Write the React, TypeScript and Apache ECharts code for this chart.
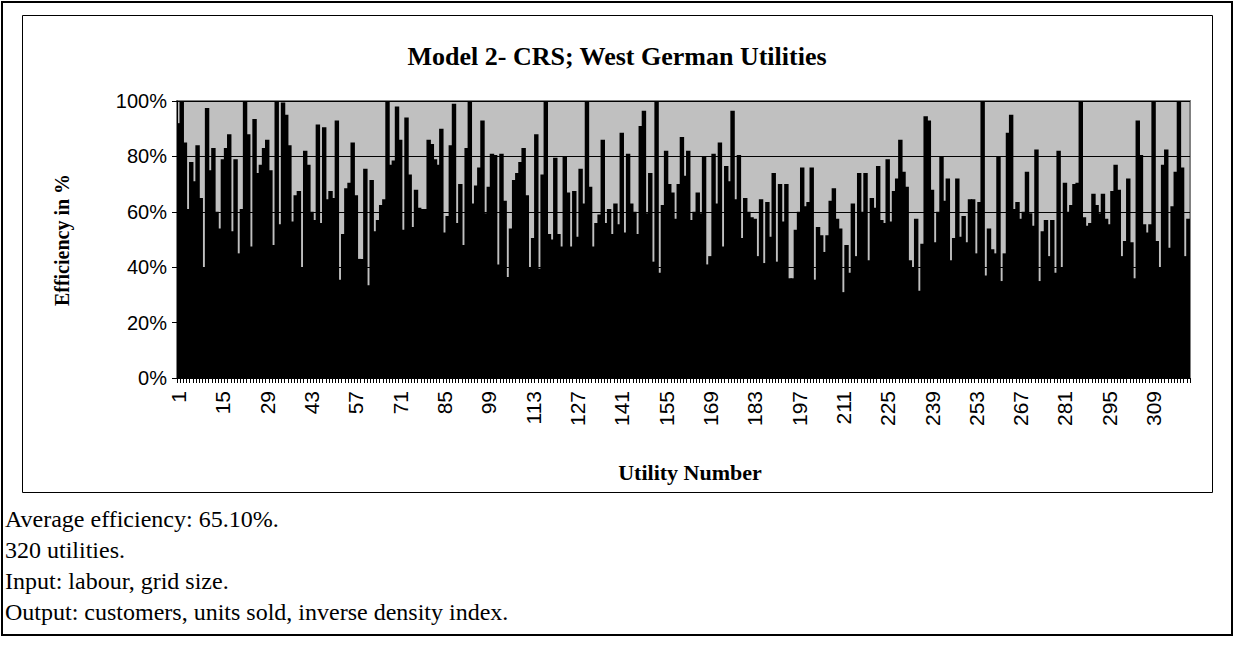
import React, { useEffect, useRef } from "react";
import * as echarts from "echarts";

// Utility numbers 1..320 (category axis)
const utilityCount = 320;
const categories: string[] = Array.from({ length: utilityCount }, (_, i) => String(i + 1));

// Efficiency (%), in blocks
const eff001: number[] = [92, 100, 85, 61, 78, 71, 84, 65, 40, 97.5, 75, 83, 60, 54, 79, 83, 88, 53, 79, 45, 61, 100, 88, 47.5, 93.5, 74, 77, 83, 86, 75, 48, 100];
const eff033: number[] = [55.5, 99.5, 95, 84, 56.5, 66, 67.5, 40, 82, 77, 60, 57, 91.5, 56, 90.5, 64.5, 67.5, 65, 93, 35.5, 52, 68.5, 70.5, 85, 66, 43, 43, 75.5, 33.5, 71.5, 53, 57];
const eff065: number[] = [62.5, 64.5, 100, 77, 78.5, 98, 86, 53.5, 94, 73.5, 54.5, 68, 61.5, 61, 61, 86, 84.5, 79, 77, 90, 52.5, 58.5, 84, 99, 56, 70, 48, 83, 100, 63, 69.5, 76, 93];
const eff098: number[] = [59.5, 69, 81, 80.5, 41, 81, 64, 36.5, 54, 71.5, 74, 78, 83, 66, 40, 50.5, 88, 39.5, 73.5, 100, 52, 50, 79.5, 52, 47.5, 80, 67, 47.5, 67.5, 51, 75.5];
const eff129: number[] = [63, 100, 69, 47.5, 56, 59, 86, 56, 61, 52, 63, 55.5, 88.5, 52.5, 81, 63, 60, 52, 91, 96.5, 59.5, 74, 42, 100, 38, 62.5, 82, 70, 67, 57.5, 70, 87];
const eff161: number[] = [73, 82, 57, 60, 67, 59.5, 80, 41, 44, 81, 63, 85, 47.5, 76.5, 71, 96.5, 64.5, 80.5, 50.5, 65, 60, 58, 57.5, 44, 64.5, 41.5, 63.5, 51, 74, 42, 70, 56.5];
const eff193: number[] = [70, 36, 36, 53.5, 60, 76, 62, 63.5, 76, 35.5, 54.5, 51.5, 45.5, 51.5, 64, 68.5, 57.5, 54, 31, 48, 38, 63, 44, 74, 60, 74, 42.5, 65, 61.5, 76.5, 57, 56, 79];
const eff226: number[] = [56.5, 67.5, 72, 86, 74.5, 69, 42.5, 40, 57.5, 31.5, 48.5, 94.5, 93, 68, 49, 60, 80, 64, 72, 42.5, 50.5, 72, 51, 58.5, 49, 64.5, 64.5, 45, 63.5, 100];
const eff256: number[] = [37, 54, 46.5, 45, 80, 35, 45, 88.5, 95, 61, 63.5, 57.5, 60, 74.5, 59.5, 55, 82.5, 35, 53, 57, 44, 57, 38, 82, 40, 70.5, 60, 62.5, 70, 70.5, 100, 58, 55, 56, 66.5];
const eff291: number[] = [62.5, 59.5, 66.5, 57.5, 55.5, 67.5, 77, 68, 44, 49.5, 72, 49, 36, 93, 80.5, 55.5, 52.5, 55.5, 100, 49.5, 40, 77, 82.5, 47, 62, 74.5, 100, 76, 44, 57.5];

const efficiency: number[] = [
  ...eff001, ...eff033, ...eff065, ...eff098, ...eff129,
  ...eff161, ...eff193, ...eff226, ...eff256, ...eff291,
].slice(0, utilityCount);

const yTicks: number[] = [0, 20, 40, 60, 80, 100];

const titleText = "Model 2- CRS; West German Utilities";
const yAxisTitle = "Efficiency in %";
const xAxisTitle = "Utility Number";
const notes: string[] = [
  "Average efficiency: 65.10%.",
  "320 utilities.",
  "Input: labour, grid size.",
  "Output: customers, units sold, inverse density index.",
];

const W = 1234;
const H = 669;
const serif = "'Liberation Serif', 'Times New Roman', serif";
const sans = "'Liberation Sans', Arial, sans-serif";

export default function App() {
  const ref = useRef<HTMLDivElement>(null);

  useEffect(() => {
    document.body.style.margin = "0";
    if (!ref.current) return;
    const chart = echarts.init(ref.current, null, { renderer: "svg", width: W, height: H });

    const plotLeft = 177;
    const plotRight = 1190;
    const plotTop = 101;
    const plotBottom = 378;

    chart.setOption({
      animation: false,
      backgroundColor: "#ffffff",
      grid: {
        left: plotLeft,
        top: plotTop,
        width: plotRight - plotLeft,
        height: plotBottom - plotTop,
        show: true,
        backgroundColor: "#C0C0C0",
        borderColor: "#808080",
        borderWidth: 2,
      },
      xAxis: {
        type: "category",
        data: categories,
        boundaryGap: true,
        axisLine: { show: true, lineStyle: { color: "#000", width: 1 } },
        axisTick: { show: true, interval: 0, length: 5, lineStyle: { color: "#000", width: 1 } },
        axisLabel: {
          interval: 13,
          rotate: 90,
          margin: 13,
          color: "#000",
          fontSize: 21,
          fontFamily: sans,
        },
        splitLine: { show: false },
      },
      yAxis: {
        type: "value",
        min: yTicks[0],
        max: yTicks[yTicks.length - 1],
        interval: 20,
        axisLine: { show: true, lineStyle: { color: "#000", width: 1 } },
        axisTick: { show: true, length: 5, lineStyle: { color: "#000" } },
        axisLabel: {
          formatter: "{value}%",
          color: "#000",
          fontSize: 20,
          fontFamily: sans,
          margin: 10,
        },
        splitLine: { show: true, lineStyle: { color: "#000", width: 1 } },
      },
      series: [
        {
          type: "bar",
          data: efficiency,
          barWidth: "140%",
          itemStyle: { color: "#000", borderWidth: 0 },
          emphasis: { disabled: true },
          clip: true,
        },
      ],
      graphic: [
        {
          type: "rect",
          shape: { x: 2, y: 2, width: 1230, height: 633 },
          style: { fill: "none", stroke: "#000", lineWidth: 2 },
          silent: true,
          z: -1,
        },
        {
          type: "rect",
          shape: { x: 22.5, y: 15.5, width: 1190, height: 477 },
          style: { fill: "none", stroke: "#000", lineWidth: 1 },
          silent: true,
          z: -1,
        },
        {
          type: "text",
          x: 617,
          y: 56,
          style: {
            text: titleText,
            font: `bold 26px ${serif}`,
            fill: "#000",
            align: "center",
            verticalAlign: "middle",
          },
        },
        {
          type: "text",
          x: 62,
          y: 240,
          rotation: Math.PI / 2,
          style: {
            text: yAxisTitle,
            font: `bold 20px ${serif}`,
            fill: "#000",
            align: "center",
            verticalAlign: "middle",
          },
        },
        {
          type: "text",
          x: 690,
          y: 472,
          style: {
            text: xAxisTitle,
            font: `bold 22px ${serif}`,
            fill: "#000",
            align: "center",
            verticalAlign: "middle",
          },
        },
        ...notes.map((t, i) => ({
          type: "text",
          x: 5,
          y: 519 + i * 31,
          style: {
            text: t,
            font: `24px ${serif}`,
            fill: "#000",
            align: "left",
            verticalAlign: "middle",
          },
        })),
      ],
    });

    return () => chart.dispose();
  }, []);

  return (
    <div
      ref={ref}
      style={{ position: "absolute", left: 0, top: 0, width: W, height: H, background: "#fff" }}
    />
  );
}
